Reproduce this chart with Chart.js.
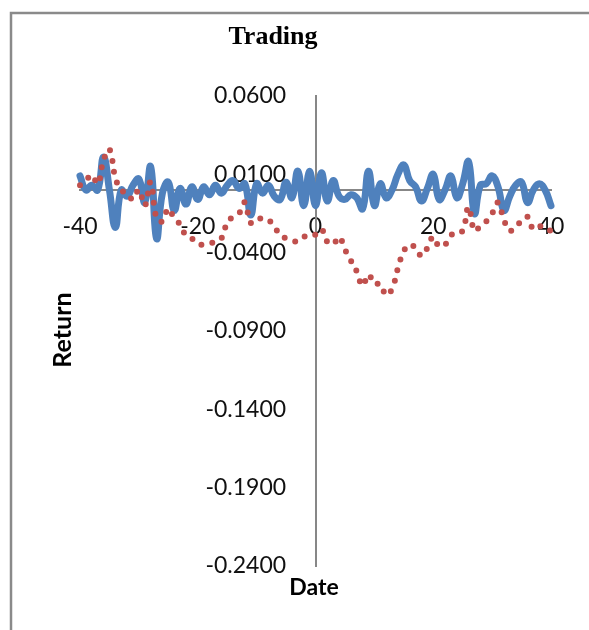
<!DOCTYPE html>
<html>
<head>
<meta charset="utf-8">
<script src="https://cdn.jsdelivr.net/npm/chart.js@4.4.1/dist/chart.umd.min.js"></script>
<style>
html,body{margin:0;padding:0;background:#fff;}
#wrap{position:relative;width:589px;height:630px;}
</style>
</head>
<body>
<div id="wrap"><canvas id="c" width="589" height="630"></canvas></div>
<script>
const dates = [];
for (let d = -40; d <= 40; d++) dates.push(d);

const dailyReturn = [
  0.009, 0.000, 0.003, 0.000, 0.021, 0.000, -0.024, 0.000, -0.004, 0.003,
  0.007, -0.008, 0.015, -0.031, -0.002, 0.005, -0.013, 0.001, -0.009, 0.002,
  -0.006, 0.002, -0.003, 0.003, -0.002, 0.003, 0.006, 0.001, 0.004, -0.016,
  0.004, -0.002, 0.003, -0.004, -0.006, 0.005, -0.005, 0.012, -0.010, 0.012,
  -0.010,
  0.011, -0.007, 0.006, -0.004, -0.006, -0.003, -0.005, -0.012, 0.012, -0.010,
  0.004, -0.005, 0.000, 0.010, 0.016, 0.006, 0.002, -0.007, 0.001, 0.010,
  -0.006, 0.000, 0.009, -0.005, 0.004, 0.018, -0.015, 0.003, 0.004, 0.009,
  0.002, -0.013, -0.004, 0.003, 0.005, -0.008, 0.000, 0.004, 0.000, -0.010
];

const cumulativeReturn = [
  0.003, 0.006, 0.0095, 0.004, 0.019, 0.026, 0.008, 0.000, -0.002, -0.006,
  0.000, -0.010, 0.005, -0.018, -0.020, -0.012, -0.018, -0.022, -0.029, -0.031,
  -0.034, -0.035, -0.034, -0.033, -0.031, -0.021, -0.017, -0.015, -0.008, -0.021,
  -0.019, -0.018, -0.019, -0.024, -0.028, -0.031, -0.032, -0.033, -0.030, -0.029,
  -0.0285,
  -0.025, -0.033, -0.0345, -0.030, -0.038, -0.045, -0.052, -0.061, -0.054, -0.060,
  -0.060, -0.067, -0.063, -0.050, -0.039, -0.035, -0.037, -0.042, -0.037, -0.030,
  -0.036, -0.035, -0.029, -0.027, -0.026, -0.011, -0.026, -0.023, -0.020, -0.015,
  -0.008, -0.019, -0.026, -0.023, -0.020, -0.017, -0.025, -0.023, -0.025, -0.026
];

const xTicks = [-40, -20, 0, 20, 40];
const yTicks = [0.06, 0.01, -0.04, -0.09, -0.14, -0.19, -0.24];

const titleText = 'Trading';
const yTitle = 'Return';
const xTitle = 'Date';

const axisGray = '#878787';

const framePlugin = {
  id: 'frame',
  beforeDraw(chart) {
    const ctx = chart.ctx;
    ctx.save();
    ctx.strokeStyle = '#8a8a8a';
    ctx.lineWidth = 2.5;
    ctx.beginPath();
    ctx.moveTo(11, 630);
    ctx.lineTo(11, 13);
    ctx.lineTo(589, 13);
    ctx.stroke();
    ctx.restore();
  }
};

const textPlugin = {
  id: 'texts',
  afterDraw(chart) {
    const ctx = chart.ctx;
    ctx.save();
    ctx.fillStyle = '#000';
    ctx.textAlign = 'center';
    ctx.textBaseline = 'alphabetic';
    ctx.font = 'bold 26px "Liberation Serif"';
    ctx.fillText(titleText, 273, 44);
    ctx.textBaseline = 'middle';
    ctx.font = 'bold 23px Lato';
    ctx.fillText(xTitle, 314, 588);
    ctx.font = 'bold 25px Lato';
    ctx.translate(63, 330);
    ctx.rotate(-Math.PI / 2);
    ctx.fillText(yTitle, 0, 0);
    ctx.restore();
  }
};

new Chart(document.getElementById('c'), {
  type: 'line',
  data: {
    datasets: [
      {
        label: 'Cumulative',
        data: dates.map((d, i) => ({x: d, y: cumulativeReturn[i]})),
        borderColor: '#C0504D',
        borderWidth: 6,
        borderDash: [0, 11],
        borderCapStyle: 'round',
        pointRadius: 0,
        tension: 0.45,
        fill: false,
        order: 0
      },
      {
        label: 'Daily',
        data: dates.map((d, i) => ({x: d, y: dailyReturn[i]})),
        borderColor: '#4F81BD',
        borderWidth: 7,
        borderCapStyle: 'round',
        borderJoinStyle: 'round',
        pointRadius: 0,
        tension: 0.45,
        fill: false,
        order: 1
      }
    ]
  },
  options: {
    responsive: false,
    animation: false,
    devicePixelRatio: 1,
    clip: false,
    layout: {padding: {left: 80, right: 38, top: 96, bottom: 64}},
    plugins: {legend: {display: false}, title: {display: false}, tooltip: {enabled: false}},
    scales: {
      x: {
        type: 'linear',
        position: {y: 0},
        min: -40, max: 40,
        afterBuildTicks(scale) { scale.ticks = xTicks.map(v => ({value: v})); },
        grid: {display: false, drawTicks: false},
        border: {display: true, color: axisGray, width: 2},
        ticks: {
          font: {family: 'Lato', size: 23},
          color: '#111',
          padding: 23,
          maxRotation: 0,
          autoSkip: false,
          callback: v => String(v)
        }
      },
      y: {
        type: 'linear',
        position: {x: 0},
        min: -0.24, max: 0.06,
        afterBuildTicks(scale) { scale.ticks = yTicks.map(v => ({value: v})); },
        grid: {display: false, drawTicks: false},
        border: {display: true, color: axisGray, width: 2},
        ticks: {
          font: {family: 'Lato', size: 23},
          color: '#111',
          autoSkip: false,
          callback: v => v.toFixed(4) + '     '
        }
      }
    }
  },
  plugins: [framePlugin, textPlugin]
});
</script>
</body>
</html>
